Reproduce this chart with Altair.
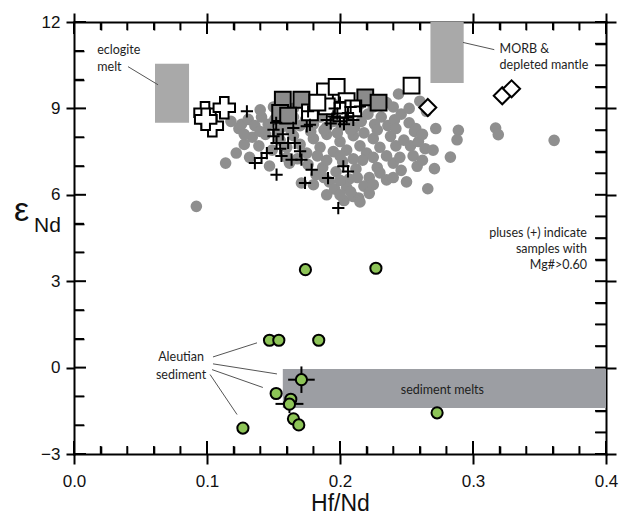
import altair as alt
import pandas as pd

# ---------------- tick values ----------------
x_major = [0.0, 0.1, 0.2, 0.3, 0.4]
x_minor = [0.02, 0.04, 0.06, 0.08, 0.12, 0.14, 0.16, 0.18, 0.22, 0.24, 0.26, 0.28,
           0.32, 0.34, 0.36, 0.38]
y_major = [-3, 0, 3, 6, 9, 12]
y_minor_left = [-2, -1, 1, 2, 4, 5, 7, 8, 10, 11]
y_minor_right = [-2.25, -1.5, -0.75, 0.75, 1.5, 2.25, 3.75, 4.5, 5.25, 6.75, 7.5,
                 8.25, 9.75, 10.5, 11.25]
x_domain = [0.0, 0.4]
y_domain = [-3.0, 12.0]

# ---------------- data ----------------
gray_x = [0.118, 0.124, 0.126, 0.131, 0.136, 0.141, 0.146, 0.151, 0.156, 0.160, 0.165,
          0.170, 0.174, 0.180, 0.185, 0.190, 0.195, 0.201, 0.206, 0.211, 0.216, 0.221,
          0.226, 0.231, 0.236, 0.241, 0.246, 0.252, 0.257, 0.244, 0.252, 0.235, 0.240,
          0.122, 0.128, 0.134, 0.139, 0.144, 0.149, 0.155, 0.160, 0.165, 0.170, 0.175,
          0.180, 0.185, 0.190, 0.195, 0.200, 0.205, 0.210, 0.215, 0.220, 0.225, 0.230,
          0.238, 0.242, 0.248, 0.253, 0.259, 0.264, 0.256, 0.289, 0.288, 0.317, 0.319,
          0.361, 0.283, 0.270,
          0.114, 0.147, 0.162, 0.171, 0.176, 0.182, 0.187, 0.192, 0.197, 0.202, 0.207,
          0.212, 0.217, 0.222, 0.228, 0.230, 0.235, 0.240, 0.246, 0.258, 0.271, 0.266,
          0.218, 0.196, 0.205,
          0.092, 0.203, 0.214, 0.210, 0.200,
          0.140, 0.150, 0.165, 0.180, 0.195, 0.205, 0.215, 0.225, 0.230, 0.260, 0.265,
          0.128, 0.140, 0.153, 0.163, 0.178, 0.188, 0.198, 0.208, 0.218, 0.228, 0.242,
          0.262, 0.272,
          0.132, 0.160, 0.168, 0.183, 0.190, 0.200, 0.210, 0.225, 0.235, 0.245, 0.255,
          0.262,
          0.180, 0.188, 0.200, 0.213, 0.225, 0.240, 0.250,
          0.190, 0.208, 0.222, 0.215]
gray_y = [8.55, 8.30, 8.45, 8.62, 8.40, 8.70, 8.45, 8.62, 8.35, 8.55, 8.70,
          8.40, 8.60, 8.45, 8.70, 8.35, 8.55, 8.40, 8.60, 8.35, 8.55, 8.80,
          8.45, 8.70, 8.40, 8.60, 8.80, 8.50, 8.30, 9.50, 9.00, 9.20, 9.05,
          7.45, 7.75, 8.00, 7.70, 8.10, 7.55, 7.90, 7.65, 8.05, 7.75, 7.45,
          7.95, 7.65, 8.10, 7.50, 7.85, 7.55, 8.05, 7.70, 7.45, 7.95, 7.65,
          8.03, 7.70, 7.90, 7.70, 7.85, 7.60, 8.20, 8.24, 7.91, 8.32, 8.09,
          7.89, 7.31, 7.55,
          7.10, 7.00, 7.10, 6.41, 7.05, 6.70, 6.95, 6.45, 6.80, 7.15, 6.55,
          6.90, 7.20, 6.60, 6.95, 6.76, 6.52, 7.10, 6.85, 6.99, 6.91, 6.21,
          6.30, 6.20, 6.25,
          5.60, 5.80, 5.89, 5.94, 6.00,
          8.95, 9.05, 9.00, 9.10, 9.15, 9.05, 9.15, 9.05, 9.30, 9.25, 8.90,
          8.10, 8.20, 8.15, 8.25, 8.20, 8.25, 8.15, 8.25, 8.15, 8.25, 8.30,
          8.10, 8.30,
          7.30, 7.30, 7.25, 7.35, 7.20, 7.35, 7.25, 7.30, 7.35, 7.30, 7.35,
          7.20,
          6.35, 6.60, 6.50, 6.60, 6.35, 6.60, 6.45,
          6.00, 6.10, 6.05, 5.75]

gsq_x = [0.157, 0.171, 0.155, 0.161, 0.219, 0.229]
gsq_y = [9.30, 9.30, 8.84, 8.75, 9.38, 9.20]

wsq_x = [0.1887, 0.1975, 0.205, 0.200, 0.190, 0.1774, 0.2538, 0.210, 0.183]
wsq_y = [9.59, 9.75, 9.25, 8.95, 9.07, 8.86, 9.79, 9.00, 9.20]

ocross_x = [0.0985, 0.113, 0.104, 0.099]
ocross_y = [8.85, 9.02, 8.40, 8.62]

diam_x = [0.266, 0.322, 0.329]
diam_y = [9.03, 9.44, 9.68]

plus_x = [0.130, 0.1523, 0.1737, 0.191, 0.2025, 0.206, 0.1987, 0.1787, 0.1636, 0.171,
          0.136, 0.141, 0.145, 0.150, 0.1523, 0.161, 0.166, 0.170, 0.1774, 0.1649,
          0.150, 0.155, 0.157, 0.215, 0.175, 0.152, 0.156,
          0.190, 0.195, 0.200, 0.205, 0.210, 0.198, 0.193, 0.203,
          0.176, 0.206, 0.200, 0.208, 0.196]
plus_y = [8.90, 6.70, 6.41, 6.58, 6.99, 6.81, 5.54, 6.87, 7.22, 7.22,
          7.10, 7.28, 7.45, 8.03, 7.80, 7.80, 7.80, 7.51, 8.43, 8.32,
          8.26, 7.60, 8.10, 9.07, 8.38, 8.50, 7.35,
          8.60, 8.72, 8.55, 8.68, 8.60, 8.82, 8.48, 8.45,
          8.90, 8.84, 9.20, 9.05, 9.00]

green_x = [0.174, 0.227, 0.147, 0.154, 0.184, 0.171, 0.152, 0.163, 0.162, 0.165, 0.169,
           0.127, 0.273]
green_y = [3.40, 3.45, 0.95, 0.95, 0.95, -0.42, -0.90, -1.10, -1.27, -1.78, -1.99,
           -2.10, -1.57]

err_x = [0.171, 0.162]
err_y = [-0.42, -1.26]
err_dx = [0.010, 0.0105]
err_dy = [0.46, 0.32]

# field rectangles: eclogite melt, MORB & depleted mantle, sediment melts
rect_x1 = [0.0609, 0.268, 0.157]
rect_x2 = [0.0865, 0.293, 0.400]
rect_y1 = [8.50, 9.88, -1.40]
rect_y2 = [10.55, 12.0, -0.05]
rect_col = ["#a9a9a9", "#a9a9a9", "#9c9ea3"]

# annotations
left_txt = ["eclogite", "melt", "MORB &", "depleted mantle"]
left_x = [0.0175, 0.0175, 0.320, 0.320]
left_y = [11.04, 10.45, 11.06, 10.50]
right_txt = ["pluses (+) indicate", "samples with", "Mg#>0.60"]
right_x = [0.3857, 0.3857, 0.3857]
right_y = [4.67, 4.11, 3.57]
mid_txt = ["Aleutian", "sediment", "sediment melts"]
mid_x = [0.0805, 0.0805, 0.277]
mid_y = [0.37, -0.25, -0.77]

lead_x1 = [0.0406, 0.2925, 0.1045, 0.1045, 0.1038, 0.1023]
lead_y1 = [10.45, 11.29, 0.37, 0.13, -0.07, -0.24]
lead_x2 = [0.0632, 0.316, 0.1376, 0.1526, 0.142, 0.1226]
lead_y2 = [9.82, 11.04, 0.86, -0.22, -0.69, -1.63]

eps_txt = ["ε", "Nd"]
eps_x = [-0.0451, -0.0300]
eps_y = [5.45, 4.90]
eps_size = [34, 21]

# ---------------- chart ----------------
W, H = 532, 432
xs = alt.Scale(domain=x_domain, nice=False, zero=False)
ys = alt.Scale(domain=y_domain, nice=False, zero=False)
AX_FONT = "Liberation Sans"
TXT_FONT = "Lato"
PX_X = (x_domain[1] - x_domain[0]) / W   # data units per pixel
PX_Y = (y_domain[1] - y_domain[0]) / H


def df(**cols):
    return pd.DataFrame(cols)


def xy(chart, xf="x", yf="y"):
    return chart.encode(x=alt.X(f"{xf}:Q", scale=xs, axis=None),
                        y=alt.Y(f"{yf}:Q", scale=ys, axis=None))


# inward tick segments built from the tick lists (length in pixels -> data units)
def seg_layer(rows, width):
    d = pd.DataFrame(rows, columns=["x", "y", "x2", "y2"])
    return alt.Chart(d).mark_rule(color="#000000", strokeWidth=width).encode(
        x=alt.X("x:Q", scale=xs, axis=None), x2="x2:Q",
        y=alt.Y("y:Q", scale=ys, axis=None), y2="y2:Q")


def xtick_rows(values, edge, length_px, direction):
    return [(v, edge, v, edge + direction * length_px * PX_Y) for v in values]


def ytick_rows(values, edge, length_px, direction):
    return [(edge, v, edge + direction * length_px * PX_X, v) for v in values]


major_rows = (xtick_rows(x_major, y_domain[0], 13, 1) + xtick_rows(x_major, y_domain[1], 12, -1)
              + ytick_rows(y_major, x_domain[0], 12, 1) + ytick_rows(y_major, x_domain[1], 11, -1))
minor_rows = (xtick_rows(x_minor, y_domain[0], 8, 1) + xtick_rows(x_minor, y_domain[1], 8, -1)
              + ytick_rows(y_minor_left, x_domain[0], 10, 1)
              + ytick_rows(y_minor_right, x_domain[1], 11, -1))
ticks_major = seg_layer(major_rows, 2)
ticks_minor = seg_layer(minor_rows, 1.6)


def plain_axis(orient, values, size):
    return alt.Axis(orient=orient, values=values, tickSize=size, tickWidth=2,
                    tickColor="black", domain=True, domainColor="black",
                    domainWidth=2, domainCap="square", labels=False, grid=False,
                    title="")


def inner_axis(orient, values, size, width):
    return alt.Axis(orient=orient, values=values, offset=-size, tickSize=size,
                    tickWidth=width, tickColor="black", domain=False, labels=False,
                    grid=False, title="")


frame = df(x=x_domain, y=y_domain)

bottom_main = alt.Axis(orient="bottom", values=x_major, format=".1f", tickSize=10,
                       tickWidth=2, tickColor="black", domain=True, domainColor="black",
                       domainWidth=2, domainCap="square", grid=False, labelFont=AX_FONT,
                       labelFontSize=17, labelColor="#111", labelPadding=9,
                       labelFlush=False, labelOverlap=False, title="Hf/Nd",
                       titleFont=AX_FONT, titleFontSize=23, titleFontWeight="normal",
                       titleColor="#111", titlePadding=3)
left_main = alt.Axis(orient="left", values=y_major, format="d", tickSize=8, tickWidth=2,
                     tickColor="black", domain=True, domainColor="black", domainWidth=2,
                     domainCap="square", grid=False, labelFont=AX_FONT, labelFontSize=17,
                     labelColor="#111", labelPadding=6, labelFlush=False,
                     labelOverlap=False, title="")


def axis_layer(xaxis, yaxis):
    return alt.Chart(frame).mark_point(opacity=0).encode(
        x=alt.X("x:Q", scale=xs, axis=xaxis),
        y=alt.Y("y:Q", scale=ys, axis=yaxis))


axis_layers = [
    axis_layer(bottom_main, left_main),
    axis_layer(plain_axis("top", x_major, 9), plain_axis("right", y_major, 10)),
    axis_layer(inner_axis("bottom", x_minor, 8, 1.6), inner_axis("left", y_minor_left, 10, 1.6)),
    axis_layer(inner_axis("top", x_minor, 8, 1.6), inner_axis("right", y_minor_right, 11, 1.6)),
]

rects = alt.Chart(df(x=rect_x1, x2=rect_x2, y=rect_y1, y2=rect_y2, c=rect_col)).mark_rect(
    opacity=1).encode(
    x=alt.X("x:Q", scale=xs, axis=None), x2="x2:Q",
    y=alt.Y("y:Q", scale=ys, axis=None), y2="y2:Q",
    color=alt.Color("c:N", scale=None))

gray = xy(alt.Chart(df(x=gray_x, y=gray_y)).mark_circle(size=135, color="#8f8f8f",
                                                        opacity=1))

gsq = xy(alt.Chart(df(x=gsq_x, y=gsq_y)).mark_point(
    shape="square", size=250, filled=True, fill="#8b8b8b", stroke="black",
    strokeWidth=2, opacity=1))
wsq = xy(alt.Chart(df(x=wsq_x, y=wsq_y)).mark_point(
    shape="square", size=250, filled=True, fill="white", stroke="black",
    strokeWidth=2, opacity=1))
ocross = xy(alt.Chart(df(x=ocross_x, y=ocross_y)).mark_point(
    shape="cross", size=460, filled=True, fill="white", stroke="black",
    strokeWidth=2, opacity=1))
diam = xy(alt.Chart(df(x=diam_x, y=diam_y)).mark_point(
    shape="diamond", size=290, filled=True, fill="white", stroke="black",
    strokeWidth=2, opacity=1))
plus = xy(alt.Chart(df(x=plus_x, y=plus_y)).mark_point(
    shape="M-1,0L1,0M0,-1L0,1", size=150, filled=False, stroke="black",
    strokeWidth=2, opacity=1))

err_df = df(x=err_x, y=err_y, dx=err_dx, dy=err_dy)
err_h = alt.Chart(err_df).transform_calculate(
    lo="datum.x - datum.dx", hi="datum.x + datum.dx").mark_rule(
    color="black", strokeWidth=2).encode(
    x=alt.X("lo:Q", scale=xs, axis=None), x2="hi:Q",
    y=alt.Y("y:Q", scale=ys, axis=None))
err_v = alt.Chart(err_df).transform_calculate(
    lo="datum.y - datum.dy", hi="datum.y + datum.dy").mark_rule(
    color="black", strokeWidth=2).encode(
    x=alt.X("x:Q", scale=xs, axis=None),
    y=alt.Y("lo:Q", scale=ys, axis=None), y2="hi:Q")

green = xy(alt.Chart(df(x=green_x, y=green_y)).mark_circle(
    size=125, fill="#8dc457", stroke="black", strokeWidth=2, opacity=1))

leads = alt.Chart(df(x=lead_x1, y=lead_y1, x2=lead_x2, y2=lead_y2)).mark_rule(
    color="#555", strokeWidth=1).encode(
    x=alt.X("x:Q", scale=xs, axis=None), x2="x2:Q",
    y=alt.Y("y:Q", scale=ys, axis=None), y2="y2:Q")


def text_layer(txt, xv, yv, align):
    return xy(alt.Chart(df(x=xv, y=yv, t=txt)).mark_text(
        align=align, baseline="middle", font=TXT_FONT, fontSize=12.5,
        color="#1e1e1e")).encode(text="t:N")


t_left = text_layer(left_txt, left_x, left_y, "left")
t_right = text_layer(right_txt, right_x, right_y, "right")
t_mid = text_layer(mid_txt, mid_x, mid_y, "center")

eps = xy(alt.Chart(df(x=eps_x, y=eps_y, t=eps_txt, s=eps_size)).mark_text(
    align="left", baseline="middle", font=AX_FONT, color="#111")).encode(
    text="t:N", size=alt.Size("s:Q", scale=None, legend=None))

chart = alt.layer(
    ticks_major, ticks_minor, rects, gray, gsq, wsq, ocross, diam, plus, err_h, err_v,
    green, leads, t_left, t_right, t_mid, eps, *axis_layers
).resolve_axis(x="independent", y="independent").properties(
    width=W, height=H,
    autosize=alt.AutoSizeParams(type="none"),
    padding={"left": 74, "top": 22, "right": 13, "bottom": 65},
)

chart.save("out.html", embed_options={"renderer": "svg", "actions": False})
